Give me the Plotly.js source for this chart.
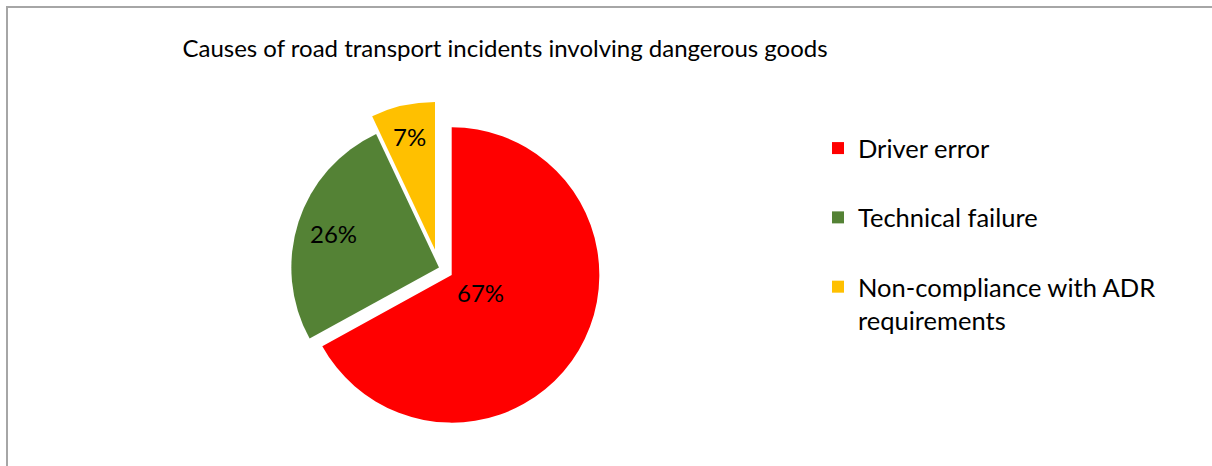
<!DOCTYPE html>
<html>
<head>
<meta charset="utf-8">
<script src="https://cdn.plot.ly/plotly-3.0.1.min.js"></script>
<style>
  html, body { margin: 0; padding: 0; background: #ffffff; }
  #wrap { position: relative; width: 1212px; height: 466px; overflow: hidden; }
  #chart { position: absolute; left: 0; top: 0; width: 1212px; height: 466px; }
  #frame { position: absolute; left: 6px; top: 6px; right: -4px; bottom: -4px;
           border-top: 2px solid #a6a6a6; border-left: 2px solid #a6a6a6; pointer-events: none; }
</style>
</head>
<body>
<div id="wrap">
  <div id="chart"></div>
  <div id="frame"></div>
</div>
<script>
// ---- data ----
var categories = ["Driver error", "Technical failure", "Non-compliance with ADR requirements"];
var shares = [67, 26, 7];
var chartTitle = "Causes of road transport incidents involving dangerous goods";

// ---- styling (kept apart from the data) ----
var sliceColors = ["#FF0000", "#548235", "#FFC000"];
var pulls = [0.1, 0, 0.123];
var labelRadius = [0.33, 0.75, 0.91];   // label distance from pie centre, as fraction of radius
var W = 1212, H = 466;
var pieDomain = { x: [0.2254, 0.499], y: [0.0702, 0.7818] };
var FONT = "Lato, 'Open Sans', sans-serif";

// legend labels (line breaks only for the legend layout)
var legendLabels = [
  categories[0] + "<br> ",
  categories[1] + "<br> ",
  "Non-compliance with ADR<br>requirements"
];

// ---- percentage labels placed on the slices, derived from the data ----
var total = shares.reduce(function (a, b) { return a + b; }, 0);
var maxPull = Math.max.apply(null, pulls);
var cx = (pieDomain.x[0] + pieDomain.x[1]) / 2 * W;
var cy = (1 - (pieDomain.y[0] + pieDomain.y[1]) / 2) * H;
var rad = Math.min((pieDomain.x[1] - pieDomain.x[0]) * W, (pieDomain.y[1] - pieDomain.y[0]) * H) / 2 / (1 + maxPull);
var annotations = [];
var cum = 0;
for (var i = 0; i < shares.length; i++) {
  var midFrac = (cum + shares[i] / 2) / total;
  cum += shares[i];
  var ang = midFrac * 2 * Math.PI;              // clockwise from 12 o'clock
  var d = labelRadius[i] * rad;
  var px = cx + Math.sin(ang) * d;
  var py = cy - Math.cos(ang) * d;
  annotations.push({
    text: Math.round(shares[i] / total * 100) + "%",
    x: px / W, y: 1 - py / H, xref: "paper", yref: "paper",
    xanchor: "center", yanchor: "middle", showarrow: false,
    font: { family: FONT, size: 24, color: "#000000" }
  });
}

var trace = {
  type: "pie",
  labels: legendLabels,
  values: shares,
  sort: false,
  direction: "clockwise",
  rotation: 0,
  pull: pulls,
  marker: { colors: sliceColors, line: { width: 0 } },
  textinfo: "none",
  domain: pieDomain,
  hoverinfo: "label+percent"
};

var layout = {
  width: W,
  height: H,
  margin: { l: 0, r: 0, t: 0, b: 0 },
  paper_bgcolor: "#ffffff",
  showlegend: true,
  annotations: annotations,
  title: {
    text: chartTitle,
    font: { family: FONT, size: 24, color: "#000000" },
    x: 0.4167, xanchor: "center", xref: "paper",
    y: 1 - 49 / 466, yanchor: "middle", yref: "container"
  },
  legend: {
    x: 818 / 1212, xanchor: "left",
    y: (466 - 125) / 466, yanchor: "top",
    font: { family: FONT, size: 25.5, color: "#000000" },
    bgcolor: "rgba(0,0,0,0)",
    valign: "top",
    traceorder: "normal"
  }
};

Plotly.newPlot("chart", [trace], layout, { displayModeBar: false, staticPlot: true });
</script>
</body>
</html>
